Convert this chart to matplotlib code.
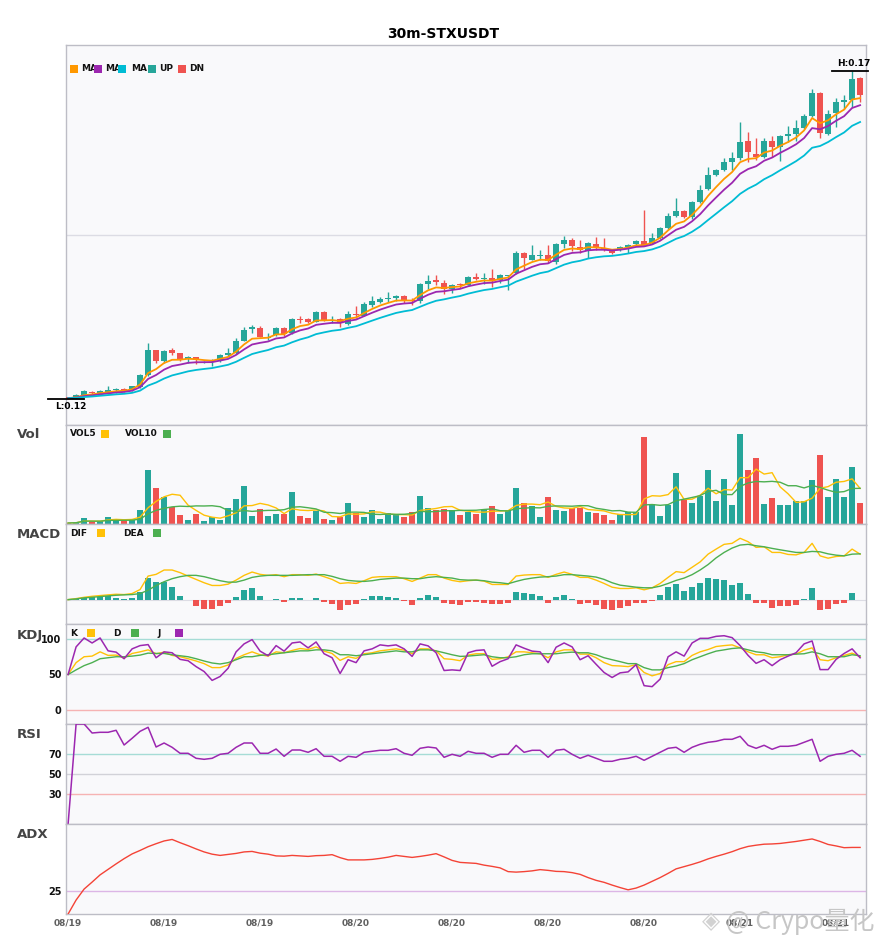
import matplotlib
matplotlib.use('Agg')
import matplotlib.pyplot as plt
from matplotlib.patches import Rectangle
from matplotlib.transforms import Bbox, TransformedBbox
import numpy as np
import pandas as pd

# ---------------- data ----------------
open_ = [0.12015, 0.12018, 0.12043, 0.12107, 0.12095, 0.12104, 0.12135, 0.12145, 0.12130, 0.12181,
         0.12360, 0.12743, 0.12570, 0.12743, 0.12692, 0.12609, 0.12631, 0.12554, 0.12554, 0.12589,
         0.12666, 0.12692, 0.12885, 0.13059, 0.13084, 0.12922, 0.12972, 0.13084, 0.12998, 0.13217,
         0.13217, 0.13176, 0.13324, 0.13194, 0.13217, 0.13141, 0.13294, 0.13268, 0.13431, 0.13482,
         0.13519, 0.13539, 0.13569, 0.13508, 0.13497, 0.13753, 0.13814, 0.13764, 0.13672, 0.13742,
         0.13738, 0.13856, 0.13834, 0.13840, 0.13814, 0.13880, 0.13917, 0.14223, 0.14120, 0.14182,
         0.14197, 0.14090, 0.14365, 0.14427, 0.14315, 0.14258, 0.14365, 0.14304, 0.14274, 0.14274,
         0.14319, 0.14365, 0.14411, 0.14381, 0.14457, 0.14610, 0.14794, 0.14871, 0.14779, 0.15008,
         0.15207, 0.15422, 0.15498, 0.15606, 0.15667, 0.15927, 0.15743, 0.15697, 0.15927, 0.15850,
         0.16004, 0.16034, 0.16126, 0.16310, 0.16662, 0.16034, 0.16356, 0.16532, 0.16555, 0.16891]
high = [0.12023, 0.12069, 0.12130, 0.12126, 0.12130, 0.12191, 0.12165, 0.12171, 0.12202, 0.12375,
        0.12845, 0.12747, 0.12743, 0.12769, 0.12701, 0.12655, 0.12640, 0.12579, 0.12600, 0.12681,
        0.12769, 0.12922, 0.13099, 0.13125, 0.13110, 0.13007, 0.13095, 0.13099, 0.13237, 0.13263,
        0.13232, 0.13344, 0.13340, 0.13263, 0.13232, 0.13340, 0.13416, 0.13477, 0.13569, 0.13559,
        0.13631, 0.13585, 0.13585, 0.13539, 0.13768, 0.13886, 0.13891, 0.13814, 0.13753, 0.13764,
        0.13875, 0.13917, 0.13917, 0.13983, 0.13906, 0.13891, 0.14248, 0.14243, 0.14350, 0.14274,
        0.14350, 0.14385, 0.14477, 0.14453, 0.14416, 0.14396, 0.14473, 0.14457, 0.14289, 0.14335,
        0.14365, 0.14427, 0.14886, 0.14534, 0.14626, 0.14840, 0.15070, 0.14886, 0.15024, 0.15269,
        0.15544, 0.15514, 0.15682, 0.15759, 0.16218, 0.16065, 0.15973, 0.15973, 0.16004, 0.16019,
        0.16157, 0.16249, 0.16340, 0.16723, 0.16677, 0.16402, 0.16585, 0.16631, 0.16999, 0.16907]
low = [0.12000, 0.12008, 0.12038, 0.12069, 0.12080, 0.12080, 0.12095, 0.12100, 0.12115, 0.12161,
       0.12344, 0.12539, 0.12539, 0.12666, 0.12579, 0.12548, 0.12528, 0.12539, 0.12502, 0.12559,
       0.12651, 0.12681, 0.12880, 0.12998, 0.12937, 0.12896, 0.12961, 0.12957, 0.12987, 0.13160,
       0.13160, 0.13171, 0.13187, 0.13156, 0.13090, 0.13125, 0.13228, 0.13263, 0.13405, 0.13458,
       0.13482, 0.13497, 0.13458, 0.13431, 0.13458, 0.13672, 0.13738, 0.13595, 0.13620, 0.13687,
       0.13730, 0.13814, 0.13753, 0.13712, 0.13773, 0.13661, 0.13906, 0.13978, 0.14113, 0.14120,
       0.14070, 0.14059, 0.14300, 0.14254, 0.14223, 0.14146, 0.14274, 0.14258, 0.14212, 0.14258,
       0.14228, 0.14350, 0.14335, 0.14365, 0.14442, 0.14595, 0.14779, 0.14763, 0.14748, 0.14993,
       0.15192, 0.15406, 0.15483, 0.15498, 0.15651, 0.15621, 0.15651, 0.15682, 0.15697, 0.15636,
       0.15912, 0.15927, 0.16111, 0.16294, 0.15973, 0.16019, 0.16141, 0.16417, 0.16448, 0.16524]
close = [0.12008, 0.12058, 0.12115, 0.12092, 0.12126, 0.12130, 0.12145, 0.12135, 0.12191, 0.12364,
         0.12743, 0.12574, 0.12732, 0.12692, 0.12600, 0.12640, 0.12589, 0.12563, 0.12563, 0.12666,
         0.12697, 0.12885, 0.13049, 0.13090, 0.12942, 0.12946, 0.13084, 0.12987, 0.13217, 0.13206,
         0.13171, 0.13324, 0.13202, 0.13209, 0.13156, 0.13294, 0.13278, 0.13447, 0.13493, 0.13528,
         0.13543, 0.13569, 0.13508, 0.13493, 0.13753, 0.13799, 0.13788, 0.13672, 0.13733, 0.13733,
         0.13856, 0.13834, 0.13845, 0.13794, 0.13886, 0.13891, 0.14223, 0.14146, 0.14197, 0.14192,
         0.14110, 0.14365, 0.14416, 0.14335, 0.14263, 0.14376, 0.14304, 0.14274, 0.14228, 0.14312,
         0.14350, 0.14411, 0.14350, 0.14457, 0.14610, 0.14794, 0.14871, 0.14779, 0.15008, 0.15192,
         0.15422, 0.15498, 0.15606, 0.15667, 0.15912, 0.15759, 0.15697, 0.15927, 0.15850, 0.16004,
         0.16034, 0.16126, 0.16310, 0.16662, 0.16049, 0.16340, 0.16524, 0.16555, 0.16876, 0.16631]
volume = [10, 15, 63, 27, 27, 73, 43, 43, 43, 143, 543, 363, 273, 170, 93, 43, 103, 33, 70, 43,
          163, 253, 383, 83, 153, 83, 103, 103, 323, 83, 63, 133, 53, 43, 67, 213, 113, 73, 143, 53,
          113, 93, 67, 123, 283, 163, 143, 153, 137, 93, 117, 103, 143, 183, 103, 137, 363, 213, 183, 73,
          273, 143, 133, 163, 163, 123, 113, 93, 43, 103, 117, 123, 873, 203, 83, 193, 513, 243, 213, 283,
          543, 233, 453, 193, 903, 543, 663, 203, 263, 193, 193, 233, 233, 443, 693, 273, 453, 273, 573, 213]
# MACD values (units of 1e-5)
macd_dif = [0, 1.0, 2.3, 3.3, 4.0, 4.7, 5.3, 5.0, 6.0, 10.0, 23.3, 25.0, 29.3, 29.3, 26.7, 23.3, 20.0,
            16.7, 14.0, 14.0, 15.3, 19.3, 24.0, 27.3, 25.0, 24.0, 24.7, 22.7, 24.7, 24.7, 24.0, 25.3,
            22.7, 20.0, 16.0, 16.7, 16.0, 18.7, 22.0, 22.7, 22.7, 22.7, 20.7, 18.0, 21.3, 24.7, 24.7,
            21.3, 19.0, 17.7, 18.7, 19.3, 18.3, 15.0, 15.0, 15.0, 23.3, 24.3, 24.7, 24.7, 22.0, 25.0,
            27.3, 25.0, 22.0, 22.0, 19.3, 16.0, 12.3, 11.0, 11.0, 11.7, 9.7, 11.7, 16.0, 22.0, 27.7,
            26.7, 32.0, 37.3, 45.0, 50.0, 54.7, 55.7, 60.7, 57.3, 51.7, 52.3, 46.7, 46.7, 44.7, 44.3,
            46.7, 55.7, 43.3, 41.0, 42.7, 43.3, 50.0, 45.0]
macd_dea = [0, 0.7, 1.7, 2.3, 3.0, 3.7, 4.3, 4.7, 5.0, 6.0, 9.3, 14.0, 17.7, 20.7, 22.7, 24.0, 24.0,
            22.7, 20.7, 18.7, 17.3, 17.3, 19.3, 22.0, 23.3, 24.0, 24.0, 24.0, 24.0, 24.3, 24.7, 24.7,
            24.7, 23.0, 20.7, 19.0, 18.3, 18.0, 18.7, 20.0, 20.7, 21.3, 21.3, 20.7, 20.7, 22.0, 22.7,
            22.0, 21.3, 19.7, 19.3, 19.3, 18.7, 17.3, 16.7, 15.7, 18.0, 20.0, 21.3, 22.3, 22.7, 23.3,
            24.7, 24.7, 24.0, 23.3, 22.3, 20.0, 16.7, 14.3, 13.3, 12.3, 11.7, 11.7, 13.3, 16.0, 19.0,
            21.3, 24.7, 29.3, 34.7, 41.3, 46.7, 51.0, 54.0, 54.7, 53.3, 52.3, 50.7, 49.3, 48.0, 46.7,
            46.7, 47.7, 47.3, 45.3, 44.0, 43.3, 45.0, 45.3]
macd_hist = [0, 0.7, 2.3, 2.3, 2.7, 4.0, 2.0, 1.0, 2.0, 8.0, 21.0, 17.0, 17.0, 12.0, 4.0, -0.7, -6.0,
             -9.0, -9.0, -6.0, -3.7, 3.0, 10.0, 11.0, 4.0, -0.7, 1.0, -2.7, 2.0, 2.0, -0.7, 2.0, -2.7,
             -4.7, -10.0, -5.7, -4.7, 1.0, 4.0, 4.0, 3.0, 2.0, -1.7, -5.7, 2.0, 5.0, 3.0, -3.0,
             -4.0, -5.7, -2.0, -2.0, -3.0, -4.7, -4.0, -3.0, 8.0, 7.0, 6.0, 4.0, -3.0, 3.0, 5.0, 1.0,
             -4.7, -3.0, -5.7, -9.0, -10.0, -8.0, -6.0, -3.7, -3.7, -1.0, 5.0, 12.0, 15.0, 9.0, 12.0,
             16.0, 21.0, 20.0, 19.0, 14.0, 16.0, 6.0, -3.7, -3.0, -8.0, -6.0, -6.0, -5.0, 0.3, 11.0,
             -10.0, -9.0, -4.0, -3.0, 7.0, -0.7]
kdj_k = [50, 66.7, 75, 75.9, 81.9, 76.9, 77.3, 73.1, 79.6, 81.9, 84.7, 79.2, 81.5, 76.9, 75, 72.2, 69, 65.3,
         59.7, 59.7, 63.4, 72.7, 77.8, 81.9, 77.8, 75.9, 81.9, 80.6, 83.8, 86.6, 85.2, 88.9, 82.9, 79.6,
         69.9, 75, 72.7, 79.2, 80.6, 83.3, 84.7, 86.1, 84.3, 79.2, 86.1, 86.1, 83.3, 72.2, 71.3,
         69.4, 77.3, 79.2, 79.2, 71.3, 72.2, 75, 81.9, 81.9, 80.6, 79.2, 73.6, 81.9, 84.7, 84.7, 78.7,
         78.7, 73.6, 66.7, 62.5, 62, 61.1, 63.9, 52.8, 48.1, 51.4, 63.9, 68.1, 68.1, 76.9, 81.9, 85.2,
         89.4, 90.7, 91.7, 87.5, 81.9, 77.8, 77.8, 73.6, 75, 77.8, 78.7, 84.3, 87.5, 70.8, 69.4, 73.6,
         76.9, 80.1, 75]
kdj_d = [50, 56.5, 62.5, 66.7, 72.2, 73.6, 75, 75, 75.9, 77.3, 80.1, 79.6, 79.6, 77.8, 76.4, 75, 72.2, 69,
         66.2, 64.8, 66.7, 70.8, 75, 75, 76.9, 77.8, 79.2, 80.6, 81.9, 83.3, 83.3, 84.7, 84.7, 83.3,
         77.8, 77.8, 76.4, 77.8, 79.2, 80.6, 81.9, 83.3, 81.9, 81.9, 84.7, 84.7, 83.3, 80.6, 77.8,
         75.5, 75.9, 76.9, 77.8, 75, 73.6, 73.6, 75, 77.8, 79.2, 79.2, 79.2, 79.2, 80.6, 81.5, 80.6,
         80.6, 77.8, 73.6, 70.8, 68.1, 65.3, 65.3, 59.7, 56.5, 56.5, 59.7, 62, 65.3, 70.8, 75, 79.2,
         82.9, 84.7, 86.6, 87.5, 84.7, 81.9, 80.6, 77.8, 77.8, 77.8, 78.7, 79.2, 81.9, 79.2, 75, 75,
         75, 77.8, 76.4]
kdj_j = [50, 88.9, 101.4, 94.4, 101.4, 83.3, 81.5, 72.2, 86.1, 90.7, 92.1, 73.6, 81.9, 80.6, 71.3, 69.4,
         61.1, 54.2, 41.7, 47.2, 58.8, 81.9, 93.1, 99.1, 82.9, 76.4, 90.7, 82.9, 94.4, 95.8, 87.5, 95.8,
         79.2, 73.6, 51.4, 70.8, 66.7, 83.3, 86.1, 91.7, 90.3, 91.7, 86.1, 75.5, 93.1, 90.3, 80.6, 55.6,
         56.5, 55.6, 80.6, 83.8, 84.7, 61.6, 68.1, 72.2, 91.7, 87.0, 82.9, 81.9, 66.7, 88.4, 94.4, 88.9,
         70.8, 76.4, 64.4, 52.8, 45.8, 52.3, 53.7, 63.9, 34.3, 32.9, 43.5, 75, 81.9, 75.9, 94.4, 100.9,
         100.9, 103.7, 104.6, 101.9, 90.7, 76.9, 65.7, 70.8, 62.5, 70.8, 75.9, 80.6, 93.1, 97.2, 56.9,
         56.9, 71.3, 79.6, 86.1, 73.6]
rsi = [0, 100, 100, 91, 91.7, 91.7, 93.7, 79, 85.7, 92.7, 96.7, 77, 81, 76.7, 70.7, 70.7, 65.7, 64.7,
       65.7, 69.7, 70.7, 76.7, 81, 81, 70.7, 70.7, 75, 67.7, 74, 74, 71.7, 75.3, 67.7, 67.7, 62.7, 67.7,
       66.7, 71.7, 72.7, 73.7, 73.7, 75.3, 70.7, 68.7, 75.7, 77, 76, 66.7, 69.7, 67.7, 72.7, 70.7, 70.7,
       66.7, 69.7, 69.7, 78.7, 71.7, 73.7, 73.7, 66.7, 73.7, 74.7, 69.7, 65.7, 68.7, 65.7, 62.7, 62.7,
       64.7, 65.7, 67.7, 63.7, 67.7, 71.7, 75.7, 76.7, 71.7, 76.7, 79.7, 81.7, 82.7, 84.7, 84.7, 87.7,
       78.7, 75.7, 78.7, 74.7, 77.7, 77.7, 78.7, 81.7, 84.7, 62.7, 67.7, 69.7, 70.7, 73.7, 67.7]
adx = [15.9, 21.5, 25.9, 28.7, 31.6, 33.8, 36.0, 38.1, 40.0, 41.4, 42.9, 44.1, 45.2, 45.8, 44.5, 43.3,
       42.0, 40.8, 39.9, 39.4, 39.8, 40.2, 40.8, 41.0, 40.3, 39.9, 39.2, 39.1, 39.4, 39.2, 39.0, 39.3,
       39.4, 39.7, 38.5, 37.6, 37.6, 37.6, 37.8, 38.2, 38.7, 39.4, 39.0, 38.6, 39.0, 39.5, 40.1, 38.8,
       37.4, 36.6, 36.4, 36.2, 35.5, 35.0, 34.4, 32.9, 32.7, 32.9, 33.2, 33.7, 33.4, 33.0, 32.9, 32.5,
       31.8, 30.5, 29.4, 28.6, 27.5, 26.5, 25.6, 26.3, 27.5, 29.0, 30.5, 32.2, 34.0, 34.9, 35.8, 36.8,
       38.0, 39.0, 39.9, 40.9, 42.1, 43.0, 43.5, 43.9, 44.0, 44.2, 44.6, 45.0, 45.5, 46.0, 45.0, 43.8,
       43.2, 42.5, 42.6, 42.6]
ma_spans = [5, 8, 15]
ma_names = ['MA5', 'MA8', 'MA15']
tick_pos = [0, 12, 24, 36, 48, 60, 72, 84, 96]
tick_labels = ['08/19', '08/19', '08/19', '08/20', '08/20', '08/20', '08/20', '08/21', '08/21']

# ---------------- styling ----------------
UP, DN = '#26a69a', '#ef5350'
MA_COLORS = ['#ff9800', '#9c27b0', '#00bcd4']
C_Y, C_G, C_P = '#ffc107', '#4caf50', '#9c27b0'
BG = '#f9f9fb'
SPINE = '#bdbdc6'

W, H = 885, 950
fig = plt.figure(figsize=(W / 100, H / 100), dpi=100)
fig.patch.set_facecolor('white')


def fx(px):
    return px / W


def fy(py):
    return 1 - py / H


LEFT, RIGHT = 65.7, 865.7


def add_ax(top, bottom):
    ax = fig.add_axes([fx(LEFT), fy(bottom), (RIGHT - LEFT) / W, (bottom - top) / H])
    ax.set_facecolor(BG)
    for s in ax.spines.values():
        s.set_color(SPINE)
        s.set_linewidth(1.0)
    ax.tick_params(axis='both', length=0, labelsize=7)
    ax.set_xticks([])
    ax.set_yticks([])
    return ax


ax_p = add_ax(45, 425)
ax_v = add_ax(425, 524)
ax_m = add_ax(524, 624)
ax_k = add_ax(624, 724)
ax_r = add_ax(724, 824)
ax_a = add_ax(824, 914)

o = np.array(open_); h = np.array(high); l = np.array(low); c = np.array(close)
v = np.array(volume, dtype=float)
n = len(c)
x = np.arange(n)
XLIM = (-0.3, n - 0.3)
for ax in (ax_p, ax_v, ax_m, ax_k, ax_r, ax_a):
    ax.set_xlim(*XLIM)

up = c >= o
col = np.where(up, UP, DN)

# ---------------- price ----------------
ax_p.vlines(x, l, h, colors=col, linewidth=1.0, zorder=2)
body = np.maximum(np.abs(c - o), 0.00012)
ax_p.bar(x, body, bottom=np.minimum(o, c), width=0.75, color=col, linewidth=0, zorder=3)
cs = pd.Series(c)
for span, colr in zip(ma_spans, MA_COLORS):
    ax_p.plot(x, cs.ewm(span=span, adjust=False).mean(), color=colr, lw=1.3, zorder=4)
lo_p, hi_p = l.min(), h.max()
pad = 0.08 * (hi_p - lo_p)
ax_p.set_ylim(lo_p - pad, hi_p + pad)
ax_p.axhline((lo_p + hi_p) / 2, color='#dcdce4', lw=1.0, zorder=1)

ih, il = int(np.argmax(h)), int(np.argmin(l))
ax_p.plot([ih - 2.5, ih + 2], [h[ih]] * 2, color='black', lw=1.3, clip_on=False, zorder=6)
ax_p.annotate(f'H:{h[ih]:.2f}', (ih + 0.2, h[ih]), xytext=(0, 2), textcoords='offset points',
              ha='center', va='bottom', fontsize=6.5, fontweight='bold', annotation_clip=False)
ax_p.plot([il - 2.5, il + 2], [l[il]] * 2, color='black', lw=1.3, clip_on=False, zorder=6)
ax_p.annotate(f'L:{l[il]:.2f}', (il + 0.4, l[il]), xytext=(0, -2.5), textcoords='offset points',
              ha='center', va='top', fontsize=6.5, fontweight='bold', annotation_clip=False)

# ---------------- volume ----------------
ax_v.bar(x, v, width=0.75, color=col, linewidth=0, zorder=2)
vs = pd.Series(v)
ax_v.plot(x, vs.rolling(5, min_periods=1).mean(), color=C_Y, lw=1.0, zorder=3)
ax_v.plot(x, vs.rolling(10, min_periods=1).mean(), color=C_G, lw=1.0, zorder=3)
ax_v.set_ylim(0, v.max() * 1.1)

# ---------------- MACD ----------------
dif = np.array(macd_dif); dea = np.array(macd_dea); hist = np.array(macd_hist)
ax_m.axhline(0, color='#dcdce4', lw=0.8, zorder=1)
ax_m.bar(x, hist, width=0.75, color=np.where(hist >= 0, UP, DN), linewidth=0, zorder=2)
ax_m.plot(x, dif, color=C_Y, lw=1.0, zorder=3)
ax_m.plot(x, dea, color=C_G, lw=1.0, zorder=3)
mlo = min(dif.min(), dea.min(), hist.min())
mhi = max(dif.max(), dea.max(), hist.max())
mr = mhi - mlo
ax_m.set_ylim(mlo - 0.2 * mr, mhi + 0.2 * mr)

# ---------------- KDJ ----------------
ax_k.axhline(100, color='#a6dcd6', lw=1.0, zorder=1)
ax_k.axhline(50, color='#d2d2d8', lw=1.0, zorder=1)
ax_k.axhline(0, color='#f6b3b3', lw=1.0, zorder=1)
ax_k.plot(x, kdj_k, color=C_Y, lw=1.0, zorder=3)
ax_k.plot(x, kdj_d, color=C_G, lw=1.0, zorder=3)
ax_k.plot(x, kdj_j, color=C_P, lw=1.1, zorder=4)
ax_k.set_ylim(-19.7, 121.1)
ax_k.set_yticks([0, 50, 100])
ax_k.set_yticklabels(['0', '50', '100'], fontweight='bold')

# ---------------- RSI ----------------
ax_r.axhline(70, color='#a6dcd6', lw=1.0, zorder=1)
ax_r.axhline(50, color='#d2d2d8', lw=1.0, zorder=1)
ax_r.axhline(30, color='#f6b3b3', lw=1.0, zorder=1)
ax_r.plot(x, rsi, color=C_P, lw=1.1, zorder=3)
ax_r.set_ylim(0, 100)
ax_r.set_yticks([30, 50, 70])
ax_r.set_yticklabels(['30', '50', '70'], fontweight='bold')

# ---------------- ADX ----------------
ax_a.axhline(25, color='#dcb6e6', lw=1.0, zorder=1)
ax_a.plot(x, adx, color='#f44336', lw=1.0, zorder=3)
ax_a.set_ylim(15.9, 52.0)
ax_a.set_yticks([25])
ax_a.set_yticklabels(['25'], fontweight='bold')
ax_a.set_xticks(tick_pos)
ax_a.set_xticklabels(tick_labels, fontsize=6.5, fontweight='bold', color='#606060')
ax_a.tick_params(axis='x', pad=3)
for ax in (ax_k, ax_r, ax_a):
    ax.tick_params(axis='y', pad=3, labelsize=7, labelcolor='#111111')

# ---------------- titles, labels, legends ----------------
fig.text(fx(443.5), fy(34), '30m-STXUSDT', ha='center', va='center', fontsize=10, fontweight='bold')
for lab, py in (('Vol', 435), ('MACD', 535), ('KDJ', 636), ('RSI', 735), ('ADX', 835)):
    fig.text(fx(17), fy(py), lab, ha='left', va='center', fontsize=9.5, fontweight='bold', color='#444444')

zc = [10]


def square(px, py, colr):
    zc[0] += 1
    fig.add_artist(Rectangle((fx(px), fy(py + 4)), 8 / W, 8 / H, transform=fig.transFigure,
                             facecolor=colr, edgecolor='none', zorder=zc[0]))


def label(px, py, s, clip_to=None):
    zc[0] += 1
    t = fig.text(fx(px), fy(py), s, ha='left', va='center', fontsize=6.5, fontweight='bold',
                 color='#111111', zorder=zc[0])
    if clip_to is not None:
        bb = Bbox([[fx(px - 2), fy(py + 10)], [fx(clip_to), fy(py - 10)]])
        t.set_clip_box(TransformedBbox(bb, fig.transFigure))
        t.set_clip_on(True)


# price legend: square then text; each following square hides the tail of the previous label
leg_items = [(70, 81, ma_names[0], MA_COLORS[0]), (94, 105, ma_names[1], MA_COLORS[1]),
             (118, 131, ma_names[2], MA_COLORS[2]), (148, 159, 'UP', UP), (178, 189, 'DN', DN)]
for k, (sx, tx, s, colr) in enumerate(leg_items):
    square(sx, 68.7, colr)
    nxt = leg_items[k + 1][0] if k + 1 < len(leg_items) else None
    label(tx, 68.7, s, clip_to=nxt)

for items, py in (([(70, 101, 'VOL5', C_Y), (125, 163, 'VOL10', C_G)], 434),
                  ([(70, 97, 'DIF', C_Y), (123, 153, 'DEA', C_G)], 533),
                  ([(70, 87, 'K', C_Y), (113, 131, 'D', C_G), (157, 175, 'J', C_P)], 633)):
    for tx, sx, s, colr in items:
        label(tx, py, s)
        square(sx, py, colr)

# watermark (logo glyph + text)
fig.text(fx(711), fy(921), '◈', ha='center', va='center', fontsize=17, color='#d2d2d2', zorder=30)
fig.text(fx(726), fy(922), '@ Crypo量化', ha='left', va='center', fontsize=18, color='#c6c6c6',
         family=['Noto Sans CJK SC', 'DejaVu Sans'], zorder=30)

fig.savefig('out.png', dpi=100, facecolor='white')
